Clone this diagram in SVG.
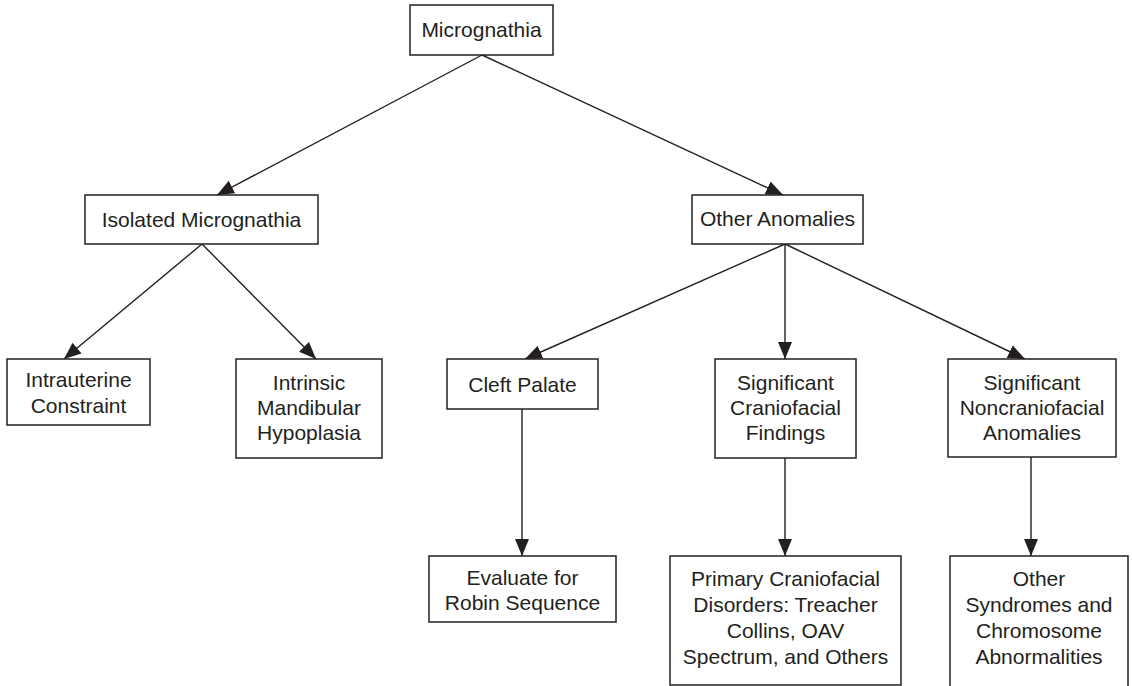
<svg xmlns="http://www.w3.org/2000/svg" width="1132" height="686" viewBox="0 0 1132 686">
<defs>
<style>
.box{fill:#fff;stroke:#231f20;stroke-width:1.5}
.t{font-family:"Liberation Sans",Arial,sans-serif;font-size:21px;fill:#231f20;text-anchor:middle}
.c{stroke:#231f20;stroke-width:1.4;fill:none;marker-end:url(#ah)}
</style>
<marker id="ah" markerUnits="userSpaceOnUse" markerWidth="18" markerHeight="16" refX="17" refY="7" orient="auto">
<path d="M0,0 L17,7 L0,14 z" fill="#231f20"/>
</marker>
</defs>
<rect width="1132" height="686" fill="#fff"/>
<g id="connectors">
<line class="c" x1="482" y1="55" x2="217" y2="195"/>
<line class="c" x1="482" y1="55" x2="783" y2="195"/>
<line class="c" x1="202" y1="244" x2="64" y2="359"/>
<line class="c" x1="202" y1="244" x2="316" y2="359"/>
<line class="c" x1="785" y1="244" x2="525" y2="359"/>
<line class="c" x1="785" y1="244" x2="785" y2="359"/>
<line class="c" x1="785" y1="244" x2="1025" y2="359"/>
<line class="c" x1="522" y1="409" x2="522" y2="556"/>
<line class="c" x1="785" y1="458" x2="785" y2="556"/>
<line class="c" x1="1031" y1="457" x2="1031" y2="556"/>
</g>
<g id="micrognathia">
<rect class="box" x="410" y="5" width="143" height="50"/>
<text class="t" x="481.5" y="37">Micrognathia</text>
</g>
<g id="isolated">
<rect class="box" x="85" y="195" width="233" height="49"/>
<text class="t" x="201.5" y="227">Isolated Micrognathia</text>
</g>
<g id="other-anomalies">
<rect class="box" x="692" y="195" width="171" height="49"/>
<text class="t" x="777.5" y="226">Other Anomalies</text>
</g>
<g id="intrauterine">
<rect class="box" x="7" y="359" width="143" height="66"/>
<text class="t" x="78.5" y="387">Intrauterine</text>
<text class="t" x="78.5" y="413">Constraint</text>
</g>
<g id="intrinsic">
<rect class="box" x="236" y="359" width="146" height="99"/>
<text class="t" x="309" y="390">Intrinsic</text>
<text class="t" x="309" y="415">Mandibular</text>
<text class="t" x="309" y="440">Hypoplasia</text>
</g>
<g id="cleft-palate">
<rect class="box" x="447" y="359" width="151" height="50"/>
<text class="t" x="522.5" y="392">Cleft Palate</text>
</g>
<g id="sig-craniofacial">
<rect class="box" x="715" y="359" width="141" height="99"/>
<text class="t" x="785.5" y="390">Significant</text>
<text class="t" x="785.5" y="415">Craniofacial</text>
<text class="t" x="785.5" y="440">Findings</text>
</g>
<g id="sig-noncraniofacial">
<rect class="box" x="948" y="359" width="168" height="98"/>
<text class="t" x="1032" y="390">Significant</text>
<text class="t" x="1032" y="415">Noncraniofacial</text>
<text class="t" x="1032" y="440">Anomalies</text>
</g>
<g id="evaluate">
<rect class="box" x="429" y="556" width="187" height="66"/>
<text class="t" x="522.5" y="585">Evaluate for</text>
<text class="t" x="522.5" y="610">Robin Sequence</text>
</g>
<g id="primary">
<rect class="box" x="670" y="556" width="231" height="129"/>
<text class="t" x="785.5" y="586">Primary Craniofacial</text>
<text class="t" x="785.5" y="612">Disorders: Treacher</text>
<text class="t" x="785.5" y="638">Collins, OAV</text>
<text class="t" x="785.5" y="664">Spectrum, and Others</text>
</g>
<g id="other-syndromes">
<rect class="box" x="950" y="556" width="178" height="134"/>
<text class="t" x="1039" y="586">Other</text>
<text class="t" x="1039" y="612">Syndromes and</text>
<text class="t" x="1039" y="638">Chromosome</text>
<text class="t" x="1039" y="664">Abnormalities</text>
</g>
</svg>
